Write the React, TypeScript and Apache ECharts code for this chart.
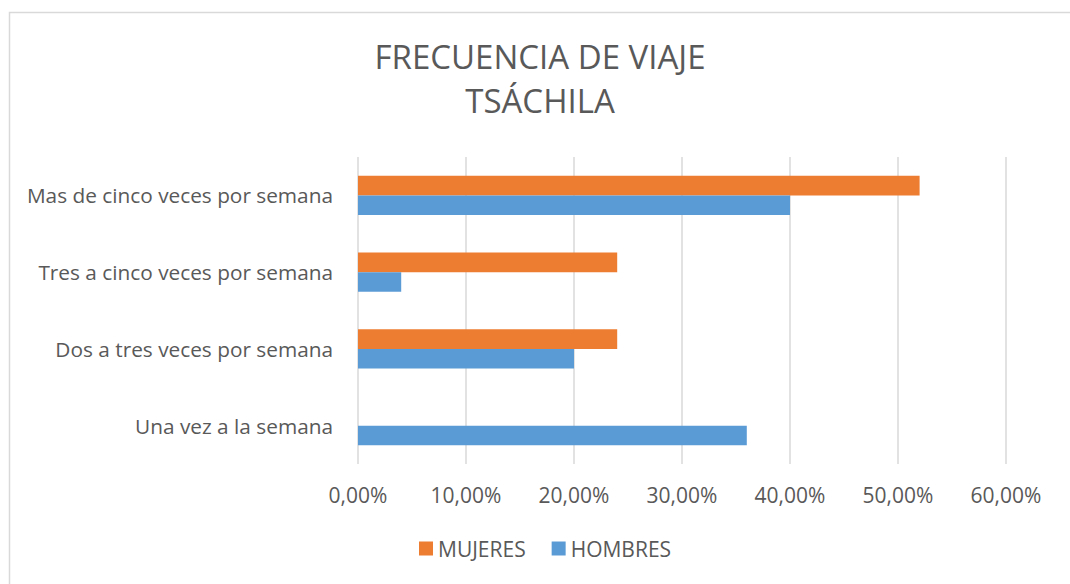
import React, { useEffect, useRef } from "react";
import * as echarts from "echarts";

const categories = [
  "Una vez a la semana",
  "Dos a tres veces por semana",
  "Tres a cinco veces por semana",
  "Mas de cinco veces por semana",
];
const mujeres = [0, 0.24, 0.24, 0.52];
const hombres = [0.36, 0.2, 0.04, 0.4];
const xTicks = { min: 0, max: 0.6, interval: 0.1 };

const FONT = "'Open Sans', 'Noto Sans', sans-serif";
const TXT = "#595959";

export default function App() {
  const ref = useRef<HTMLDivElement>(null);
  useEffect(() => {
    if (!ref.current) return;
    const chart = echarts.init(ref.current, null, { renderer: "svg" });
    chart.setOption({
      animation: false,
      backgroundColor: "#ffffff",
      textStyle: { fontFamily: FONT },
      graphic: [
        {
          type: "rect",
          shape: { x: 9.5, y: 12.5, width: 1100, height: 600 },
          style: { fill: "none", stroke: "#d9d9d9", lineWidth: 1.5 },
          silent: true,
        },
      ],
      title: {
        text: "FRECUENCIA DE VIAJE\nTSÁCHILA",
        left: 535,
        textAlign: "center",
        top: 29,
        textStyle: {
          fontFamily: FONT,
          fontSize: 33,
          fontWeight: "normal",
          color: TXT,
          lineHeight: 44,
        },
      },
      legend: {
        data: ["MUJERES", "HOMBRES"],
        top: 533,
        left: 414,
        icon: "rect",
        itemWidth: 14,
        itemHeight: 14,
        itemGap: 26,
        textStyle: { fontFamily: FONT, fontSize: 21, color: TXT },
      },
      grid: { left: 358, right: 64, top: 157, bottom: 120 },
      xAxis: {
        type: "value",
        min: xTicks.min,
        max: xTicks.max,
        interval: xTicks.interval,
        axisLine: { show: false },
        axisTick: { show: false },
        splitLine: { lineStyle: { color: "#d9d9d9", width: 1.5 } },
        axisLabel: {
          fontFamily: FONT,
          fontSize: 21,
          color: TXT,
          margin: 20,
          formatter: (v: number) => (v * 100).toFixed(2).replace(".", ",") + "%",
        },
      },
      yAxis: {
        type: "category",
        data: categories,
        axisLine: { show: false },
        axisTick: { show: false },
        axisLabel: { fontFamily: FONT, fontSize: 20.8, color: TXT, margin: 25 },
      },
      series: [
        {
          name: "MUJERES",
          type: "bar",
          data: mujeres,
          itemStyle: { color: "#ed7d31" },
          barGap: "0%",
          barCategoryGap: "49%",
        },
        {
          name: "HOMBRES",
          type: "bar",
          data: hombres,
          itemStyle: { color: "#5b9bd5" },
          barGap: "0%",
          barCategoryGap: "49%",
        },
      ],
    });
    return () => chart.dispose();
  }, []);
  return (
    <div
      ref={ref}
      style={{ position: "fixed", left: 0, top: 0, width: 1070, height: 584 }}
    />
  );
}
